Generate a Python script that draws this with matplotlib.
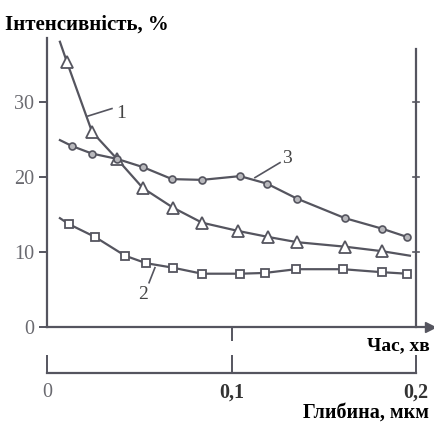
import numpy as np
import matplotlib.pyplot as plt

# крива 1 (трикутники)
x1 = [0.007, 0.0108, 0.0244, 0.0379, 0.052, 0.0683, 0.084, 0.1035, 0.1198, 0.1355, 0.1615, 0.1816, 0.1967]
y1 = [38.0, 35.3, 26.0, 22.4, 18.5, 15.9, 13.9, 12.8, 12.0, 11.3, 10.7, 10.1, 9.5]
# крива 2 (квадрати)
x2 = [0.007, 0.0119, 0.026, 0.0423, 0.0537, 0.0683, 0.084, 0.1046, 0.118, 0.135, 0.1604, 0.1816, 0.1951]
y2 = [14.5, 13.7, 12.0, 9.5, 8.5, 7.9, 7.1, 7.1, 7.2, 7.7, 7.7, 7.3, 7.1]
# крива 3 (кружки)
x3 = [0.007, 0.0136, 0.0244, 0.0379, 0.052, 0.0678, 0.084, 0.1046, 0.1192, 0.1355, 0.1615, 0.1816, 0.1951]
y3 = [24.9, 24.1, 23.1, 22.4, 21.3, 19.7, 19.6, 20.1, 19.1, 17.1, 14.5, 13.1, 12.0]

yticks = [0, 10, 20, 30]
depth_ticks = [0, 0.1, 0.2]
depth_labels = ['0', '0,1', '0,2']

col = '#55555f'
serif = ['Liberation Serif', 'DejaVu Serif']

W, H = 435, 423
fig = plt.figure(figsize=(W / 100, H / 100), dpi=100)

# основні осі: x від 47 до 435 px, 0..0.2 -> 47..416 px
xmax = 0.2 * (435 - 47) / (416 - 47)
xarrow = 0.2 * (430 - 47) / (416 - 47)
ax = fig.add_axes([47 / W, (H - 327) / H, (435 - 47) / W, (327 - 38) / H])
ax.set_xlim(0, xmax)
ax.set_ylim(0, 38.5)

for s in ['top', 'right']:
    ax.spines[s].set_visible(False)
for s in ['left', 'bottom']:
    ax.spines[s].set_color(col)
    ax.spines[s].set_linewidth(1.6)
ax.spines['bottom'].set_bounds(0, xarrow)

# права вісь
ax.plot([0.2, 0.2], [0, 37], color=col, lw=1.6, clip_on=False)
for v in [10, 20, 30]:
    ax.plot([0.1985, 0.2015], [v, v], color=col, lw=1.2, clip_on=False)

# стрілка на осі часу
ax.plot([xarrow], [0], marker='>', color=col, ms=7, clip_on=False)

ax.set_yticks(yticks)
ax.set_yticklabels([str(v) for v in yticks], fontfamily=serif, fontsize=14.5, color='#6a6a70')
ax.tick_params(axis='y', direction='out', length=6, width=1.4, color=col, pad=3)
ax.set_xticks([0.1])
ax.set_xticklabels([])
ax.tick_params(axis='x', direction='out', length=10, width=1.4, color=col)

ax.plot(x1, y1, color=col, lw=1.6, marker='^', ms=8, mfc='white', mec=col, mew=1.3,
        markevery=list(range(1, len(x1) - 1)), clip_on=False)
ax.plot(x2, y2, color=col, lw=1.6, marker='s', ms=6, mfc='white', mec=col, mew=1.3,
        markevery=list(range(1, len(x2))), clip_on=False)
ax.plot(x3, y3, color=col, lw=1.6, marker='o', ms=5, mfc='#b8b8bc', mec=col, mew=1.2,
        markevery=list(range(1, len(x3))), clip_on=False)

# підписи кривих
ax.plot([0.0222, 0.0352], [28.1, 29.1], color=col, lw=1.2)
ax.text(0.0375, 28.5, '1', fontfamily=serif, fontsize=14, color='#444', va='center')
ax.plot([0.1127, 0.1263], [19.9, 21.9], color=col, lw=1.2)
ax.text(0.1275, 22.4, '3', fontfamily=serif, fontsize=14, color='#444', va='center')
ax.plot([0.0585, 0.0553], [7.9, 5.9], color=col, lw=1.2)
ax.text(0.052, 4.3, '2', fontfamily=serif, fontsize=14, color='#444', va='center', ha='center')

fig.text(5 / W, 1 - 25 / H, 'Інтенсивність, %', fontfamily=serif, fontsize=15,
         fontweight='bold', va='center', ha='left')
fig.text(430 / W, 1 - 346 / H, 'Час, хв', fontfamily=serif, fontsize=14,
         fontweight='bold', va='center', ha='right')

# вісь глибини
ax2 = fig.add_axes([47 / W, (H - 373) / H, (435 - 47) / W, 0.02])
ax2.set_xlim(0, xmax)
ax2.set_ylim(0, 1)
ax2.patch.set_visible(False)
for s in ['top', 'right', 'left']:
    ax2.spines[s].set_visible(False)
ax2.spines['bottom'].set_bounds(0, 0.2)
ax2.spines['bottom'].set_color(col)
ax2.spines['bottom'].set_linewidth(1.6)
ax2.set_yticks([])
ax2.set_xticks(depth_ticks)
ax2.set_xticklabels(depth_labels, fontfamily=serif, fontsize=14.5, fontweight='bold', color='#333')
ax2.get_xticklabels()[0].set_fontweight('normal')
ax2.get_xticklabels()[0].set_color('#6a6a70')
ax2.tick_params(axis='x', direction='in', length=13, width=1.4, color=col, pad=7)

fig.text(303 / W, 1 - 413 / H, 'Глибина, мкм', fontfamily=serif, fontsize=14.5,
         fontweight='bold', va='center', ha='left')

fig.savefig('out.png', dpi=100)
